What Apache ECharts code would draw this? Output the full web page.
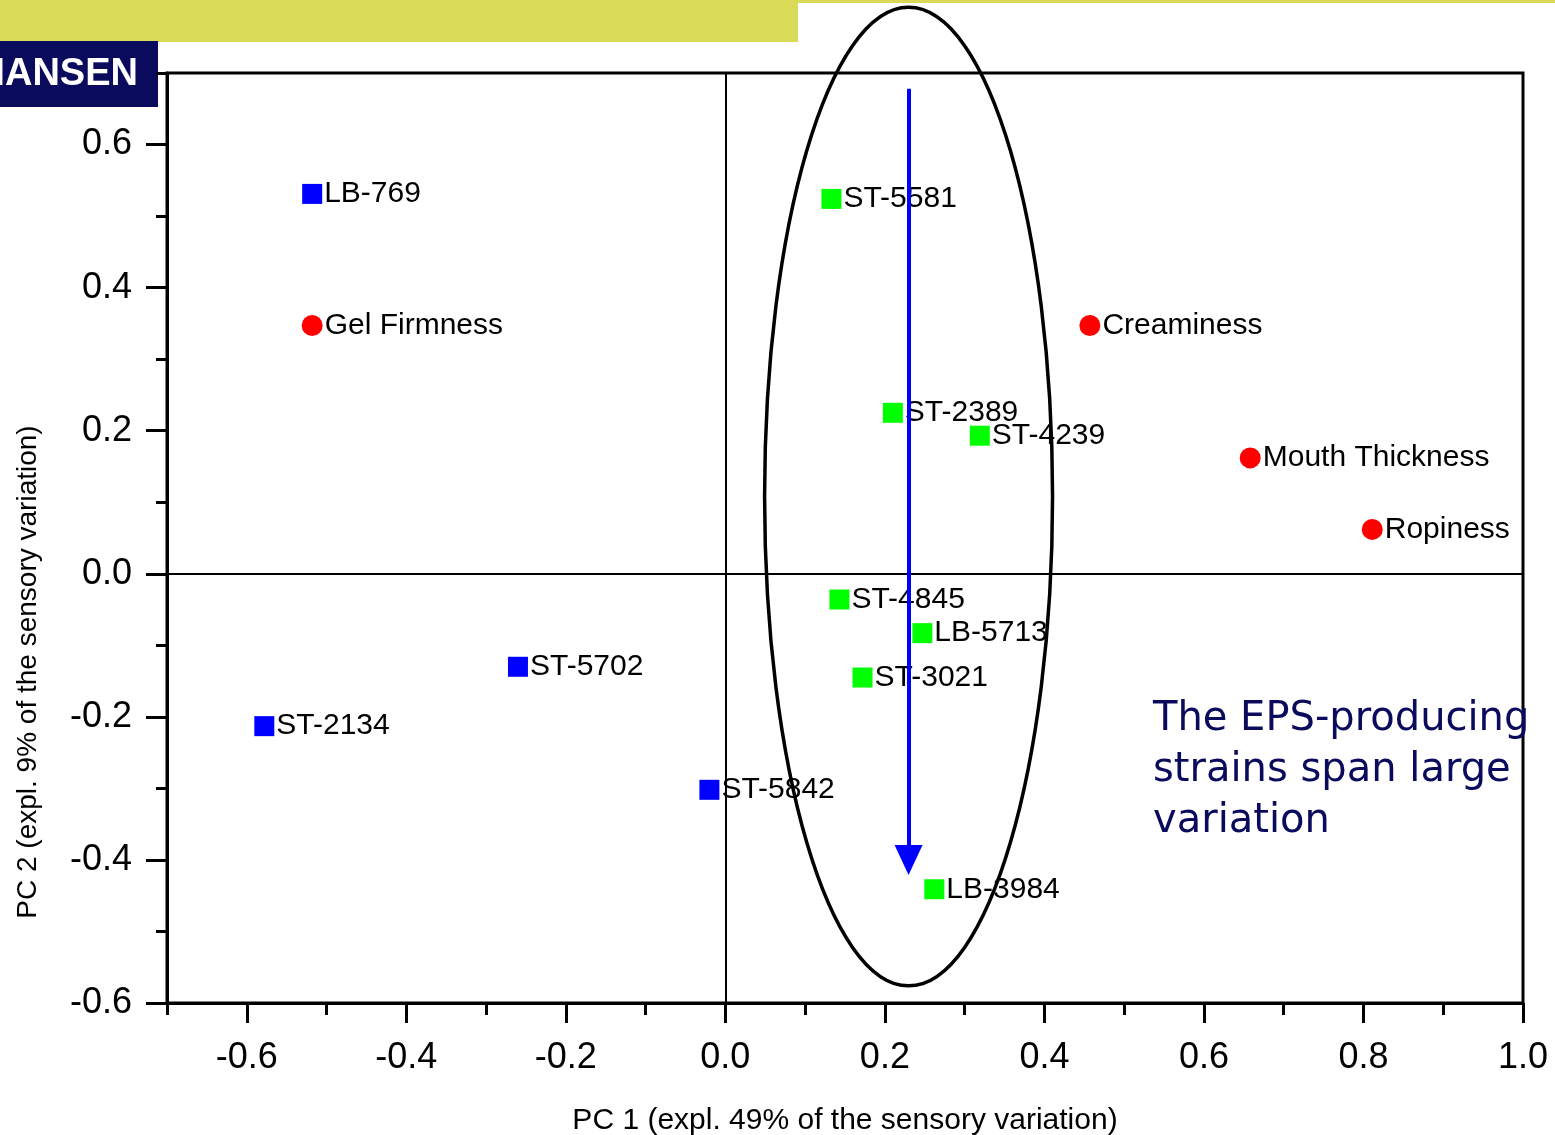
<!DOCTYPE html>
<html>
<head>
<meta charset="utf-8">
<script src="https://cdn.jsdelivr.net/npm/echarts@6/dist/echarts.min.js"></script>
<style>
  html, body { margin: 0; padding: 0; background: #fff; }
  #chart { width: 1555px; height: 1135px; }
</style>
</head>
<body>
<div id="chart"></div>
<script>
// strains outside the EPS group (blue squares)
const blueNames = ["LB-769", "ST-5702", "ST-2134", "ST-5842"];
const blueX = [-0.518, -0.260, -0.578, -0.020];
const blueY = [0.531, -0.130, -0.213, -0.302];

// EPS-producing strains (green squares)
const greenNames = ["ST-5581", "ST-2389", "ST-4239", "ST-4845", "LB-5713", "ST-3021", "LB-3984"];
const greenX = [0.133, 0.210, 0.319, 0.143, 0.247, 0.172, 0.262];
const greenY = [0.524, 0.225, 0.193, -0.036, -0.083, -0.145, -0.441];

// sensory attributes (red circles)
const attrNames = ["Gel Firmness", "Creaminess", "Mouth Thickness", "Ropiness"];
const attrX = [-0.518, 0.457, 0.658, 0.811];
const attrY = [0.347, 0.347, 0.162, 0.062];

const xMajorTicks = [-0.6, -0.4, -0.2, 0.0, 0.2, 0.4, 0.6, 0.8, 1.0];
const yMajorTicks = [-0.6, -0.4, -0.2, 0.0, 0.2, 0.4, 0.6];

// annotation: ellipse round the EPS strains and the arrow through it
const ellipseCenter = [0.2297, 0.108];
const ellipseRadius = [0.1805, 0.684];
const arrowX = 0.2297;
const arrowY = [0.678, -0.40];

const noteLines = ["The EPS-producing", "strains span large", "variation"];

const FONT = "'Liberation Sans', Arial, sans-serif";

const toPoints = (names, xs, ys) =>
  names.map((name, i) => ({ name: name, value: [xs[i], ys[i]] }));

const pointLabel = {
  show: true,
  position: "right",
  distance: 2,
  formatter: "{b}",
  color: "#000",
  fontSize: 30,
  fontFamily: FONT,
};

const isMajor = (v) => Math.abs(Math.round(v * 10)) % 2 === 0;

const chart = echarts.init(document.getElementById("chart"));

const axisLineStyle = { color: "#000", width: 3 };

chart.setOption({
  animation: false,
  backgroundColor: "#fff",
  grid: {
    left: 167,
    right: 32,
    top: 73,
    bottom: 132,
    outerBoundsMode: "none",
    containLabel: false,
    show: true,
    borderColor: "#000",
    borderWidth: 3,
    backgroundColor: "transparent",
  },
  xAxis: [
    {
      type: "value",
      min: -0.7,
      max: 1.0,
      interval: 0.1,
      position: "bottom",
      name: "PC 1 (expl. 49% of the sensory variation)",
      nameLocation: "middle",
      nameGap: 103,
      nameTextStyle: { color: "#000", fontSize: 30, fontFamily: FONT },
      axisLine: { show: true, onZero: false, lineStyle: axisLineStyle },
      axisTick: { show: true, length: 12, lineStyle: axisLineStyle },
      axisLabel: {
        color: "#000",
        fontSize: 36,
        fontFamily: FONT,
        margin: 37,
        formatter: (v) => (isMajor(v) ? v.toFixed(1) : ""),
      },
      splitLine: { show: false },
    },
    {
      type: "value",
      min: -0.7,
      max: 1.0,
      interval: 0.1,
      position: "bottom",
      axisLine: { show: false, onZero: false },
      axisTick: { show: true, length: 20, customValues: xMajorTicks, lineStyle: axisLineStyle },
      axisLabel: { show: false },
      splitLine: { show: false },
    },
  ],
  yAxis: [
    {
      type: "value",
      min: -0.6,
      max: 0.7,
      interval: 0.1,
      position: "left",
      axisLine: { show: true, onZero: false, lineStyle: axisLineStyle },
      axisTick: { show: true, length: 11, lineStyle: axisLineStyle },
      axisLabel: {
        color: "#000",
        fontSize: 36,
        fontFamily: FONT,
        margin: 35,
        formatter: (v) => (isMajor(v) && v < 0.65 ? v.toFixed(1) : ""),
      },
      splitLine: { show: false },
    },
    {
      type: "value",
      min: -0.6,
      max: 0.7,
      interval: 0.1,
      position: "left",
      axisLine: { show: false, onZero: false },
      axisTick: { show: true, length: 21, customValues: yMajorTicks, lineStyle: axisLineStyle },
      axisLabel: { show: false },
      splitLine: { show: false },
    },
  ],
  series: [
    {
      name: "zero lines",
      type: "scatter",
      data: [],
      markLine: {
        silent: true,
        symbol: "none",
        label: { show: false },
        lineStyle: { color: "#000", width: 2, type: "solid" },
        data: [{ xAxis: 0 }, { yAxis: 0 }],
      },
    },
    {
      name: "Other strains",
      type: "scatter",
      symbol: "rect",
      symbolSize: 20,
      itemStyle: { color: "#0000ff", opacity: 1 },
      label: pointLabel,
      data: toPoints(blueNames, blueX, blueY),
    },
    {
      name: "EPS strains",
      type: "scatter",
      symbol: "rect",
      symbolSize: 20,
      itemStyle: { color: "#00ff00", opacity: 1 },
      label: pointLabel,
      data: toPoints(greenNames, greenX, greenY),
    },
    {
      name: "Attributes",
      type: "scatter",
      symbol: "circle",
      symbolSize: 21,
      itemStyle: { color: "#ff0000", opacity: 1 },
      label: pointLabel,
      data: toPoints(attrNames, attrX, attrY),
    },
    {
      name: "arrow",
      type: "scatter",
      data: [],
      z: 10,
      markLine: {
        silent: true,
        symbol: ["none", "triangle"],
        symbolSize: [28, 30],
        label: { show: false },
        lineStyle: { color: "#0000ff", width: 4, type: "solid", opacity: 1 },
        data: [[{ coord: [arrowX, arrowY[0]] }, { coord: [arrowX, arrowY[1]] }]],
      },
    },
  ],
  graphic: [
    {
      id: "band",
      type: "rect",
      shape: { x: 0, y: 0, width: 798, height: 42 },
      style: { fill: "#d9da58" },
    },
    {
      id: "bandLine",
      type: "rect",
      shape: { x: 0, y: 0, width: 1555, height: 3 },
      style: { fill: "#d9da58" },
    },
    {
      id: "logo",
      type: "rect",
      shape: { x: 0, y: 41, width: 158, height: 66 },
      style: { fill: "#0b0b5e" },
    },
    {
      id: "logoText",
      type: "text",
      x: 138,
      y: 75,
      style: {
        text: "HANSEN",
        fill: "#fff",
        font: "bold 38px " + FONT,
        align: "right",
        verticalAlign: "middle",
      },
    },
    {
      id: "yTitle",
      type: "text",
      x: 28,
      y: 672,
      rotation: Math.PI / 2,
      style: {
        text: "PC 2 (expl. 9% of the sensory variation)",
        fill: "#000",
        font: "28px " + FONT,
        align: "center",
        verticalAlign: "middle",
      },
    },
    {
      id: "note",
      type: "text",
      x: 1153,
      y: 771,
      z: 20,
      style: {
        text: noteLines.join("\n"),
        fill: "#0b0b5e",
        font: "40px 'DejaVu Sans', Verdana, sans-serif",
        lineHeight: 51,
        align: "left",
        verticalAlign: "middle",
      },
    },
  ],
});

// ellipse placed from its data-space centre and radii
const finder = { xAxisIndex: 0, yAxisIndex: 0 };
const c = chart.convertToPixel(finder, ellipseCenter);
const corner = chart.convertToPixel(finder, [
  ellipseCenter[0] + ellipseRadius[0],
  ellipseCenter[1] + ellipseRadius[1],
]);

chart.setOption({
  graphic: [
    {
      id: "ellipse",
      type: "ellipse",
      z: 15,
      shape: { cx: c[0], cy: c[1], rx: corner[0] - c[0], ry: c[1] - corner[1] },
      style: { fill: "none", stroke: "#000", lineWidth: 3.5 },
    },
  ],
});
</script>
</body>
</html>
